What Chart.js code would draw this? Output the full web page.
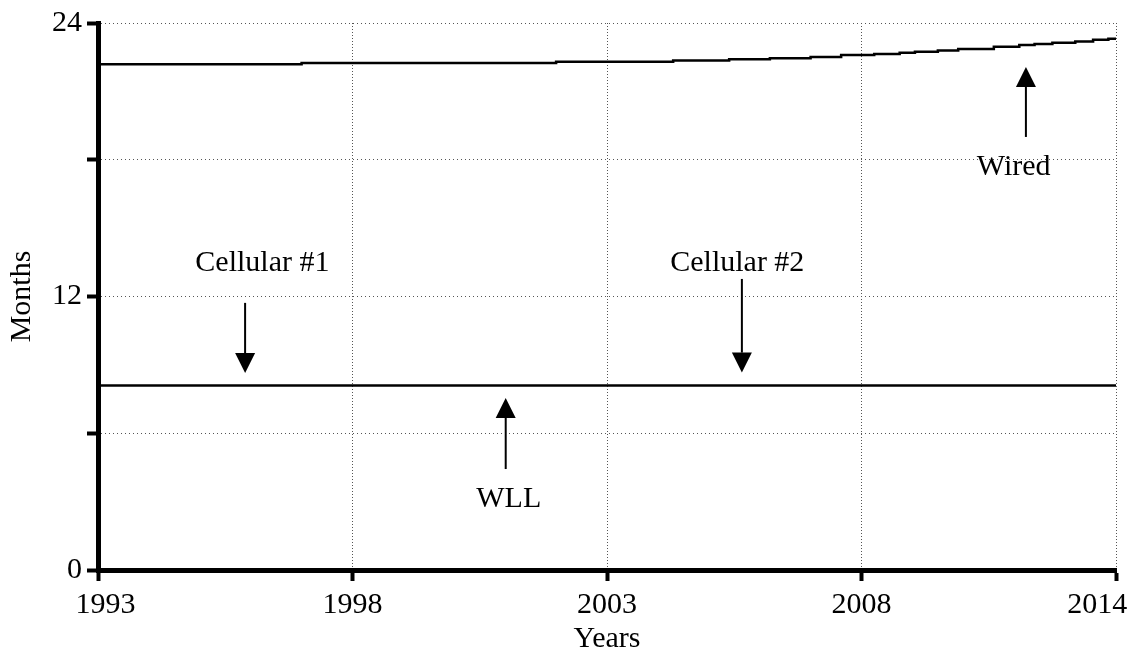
<!DOCTYPE html>
<html>
<head>
<meta charset="utf-8">
<script src="https://cdn.jsdelivr.net/npm/chart.js@4.4.0/dist/chart.umd.min.js"></script>
<style>
html,body{margin:0;padding:0;background:#fff;}
#wrap{width:1143px;height:654px;position:relative;}
canvas{display:block;}
</style>
</head>
<body>
<div id="wrap"><canvas id="c" width="1143" height="654"></canvas></div>
<script>
// ---- data ----
const xTickValues = [1993, 1998, 2003, 2008, 2013];
const xTickLabels = ['1993', '1998', '2003', '2008', '2014'];
const yTickValues = [0, 6, 12, 18, 24];
const yTickLabels = ['0', '', '12', '', '24'];

const wiredYears  = [1993, 1997, 2002, 2004.3, 2005.4, 2006.2, 2007, 2007.6, 2008.25, 2008.75, 2009.05, 2009.5, 2009.9, 2010.6, 2011.1, 2011.4, 2011.75, 2012.2, 2012.55, 2012.85, 2013];
const wiredMonths = [22.19, 22.25, 22.30, 22.35, 22.41, 22.45, 22.51, 22.60, 22.64, 22.70, 22.74, 22.79, 22.86, 22.96, 23.04, 23.08, 23.13, 23.19, 23.26, 23.31, 23.31];

const wllYears  = [1993, 2013];
const wllMonths = [8.1, 8.1];

// annotation labels (text position and arrow in data units)
const annLabels   = ['Cellular #1', 'Cellular #2', 'WLL', 'Wired'];
const annTextX    = [1996.23, 2005.56, 2001.07, 2010.99];
const annTextY    = [13.12, 13.12, 2.76, 17.33];
const annArrowX   = [1995.89, 2005.65, 2001.01, 2011.23];
const annArrowFrom= [11.72, 12.77, 4.43, 19.0];
const annArrowTo  = [8.64, 8.66, 7.55, 22.07];

const FONT = 'Liberation Serif';
Chart.defaults.font.family = FONT;
Chart.defaults.color = '#000';

const annotationPlugin = {
  id: 'arrowLabels',
  afterDatasetsDraw(chart) {
    const {ctx} = chart;
    const xs = chart.scales.x, ys = chart.scales.y;
    ctx.save();
    ctx.fillStyle = '#000';
    ctx.strokeStyle = '#000';
    ctx.font = '30px "' + FONT + '"';
    ctx.textAlign = 'center';
    ctx.textBaseline = 'alphabetic';
    annLabels.forEach((t, i) => {
      ctx.fillText(t, xs.getPixelForValue(annTextX[i]), ys.getPixelForValue(annTextY[i]));
      const ax = xs.getPixelForValue(annArrowX[i]);
      const y0 = ys.getPixelForValue(annArrowFrom[i]);
      const y1 = ys.getPixelForValue(annArrowTo[i]);
      const dir = Math.sign(y1 - y0);
      const head = 20, hw = 10;
      ctx.lineWidth = 2;
      ctx.beginPath();
      ctx.moveTo(ax, y0);
      ctx.lineTo(ax, y1 - dir * head);
      ctx.stroke();
      ctx.beginPath();
      ctx.moveTo(ax, y1);
      ctx.lineTo(ax - hw, y1 - dir * head);
      ctx.lineTo(ax + hw, y1 - dir * head);
      ctx.closePath();
      ctx.fill();
    });
    ctx.restore();
  }
};

const tickFont = {family: FONT, size: 30};

new Chart(document.getElementById('c'), {
  type: 'line',
  data: {
    datasets: [
      {
        label: 'Wired',
        data: wiredYears.map((yr, i) => ({x: yr, y: wiredMonths[i]})),
        borderColor: '#000',
        borderWidth: 2.5,
        pointRadius: 0,
        stepped: true,
        fill: false
      },
      {
        label: 'WLL / Cellular',
        data: wllYears.map((yr, i) => ({x: yr, y: wllMonths[i]})),
        borderColor: '#000',
        borderWidth: 2.5,
        pointRadius: 0,
        fill: false
      }
    ]
  },
  options: {
    responsive: false,
    devicePixelRatio: 1,
    animation: false,
    layout: {padding: {top: 23, right: 27, bottom: 0, left: 0}},
    plugins: {legend: {display: false}, tooltip: {enabled: false}},
    scales: {
      x: {
        type: 'linear',
        min: 1993,
        max: 2013,
        afterBuildTicks: s => { s.ticks = xTickValues.map(v => ({value: v})); },
        ticks: {
          autoSkip: false,
          maxRotation: 0,
          minRotation: 0,
          padding: 6,
          font: tickFont,
          color: '#000',
          callback: (v, i) => {
            const lab = xTickLabels[i];
            if (i === 0) return '  ' + lab;
            if (i === xTickLabels.length - 1) return lab + '     ';
            return lab;
          }
        },
        grid: {color: '#555', lineWidth: 1, tickLength: 11, tickWidth: 4, tickColor: '#000', tickBorderDash: []},
        border: {display: true, color: '#000', width: 5, dash: [1, 2]},
        title: {display: true, text: 'Years', font: {family: FONT, size: 30, lineHeight: 1.0}, color: '#000', padding: {top: 0, bottom: 0}},
        afterFit: s => { s.height = 84; s.paddingLeft = 0; s.paddingRight = 0; }
      },
      y: {
        type: 'linear',
        min: 0,
        max: 24,
        afterBuildTicks: s => { s.ticks = yTickValues.map(v => ({value: v})); },
        ticks: {
          padding: 5,
          font: tickFont,
          color: '#000',
          callback: (v, i) => yTickLabels[i]
        },
        grid: {color: '#555', lineWidth: 1, tickLength: 11, tickWidth: 4, tickColor: '#000', tickBorderDash: []},
        border: {display: true, color: '#000', width: 5, dash: [1, 3]},
        title: {display: true, text: 'Months', font: tickFont, color: '#000', padding: {top: 4, bottom: 0}},
        afterFit: s => { s.width = 98; s.paddingTop = 0; s.paddingBottom = 0; }
      }
    }
  },
  plugins: [annotationPlugin]
});
</script>
</body>
</html>
